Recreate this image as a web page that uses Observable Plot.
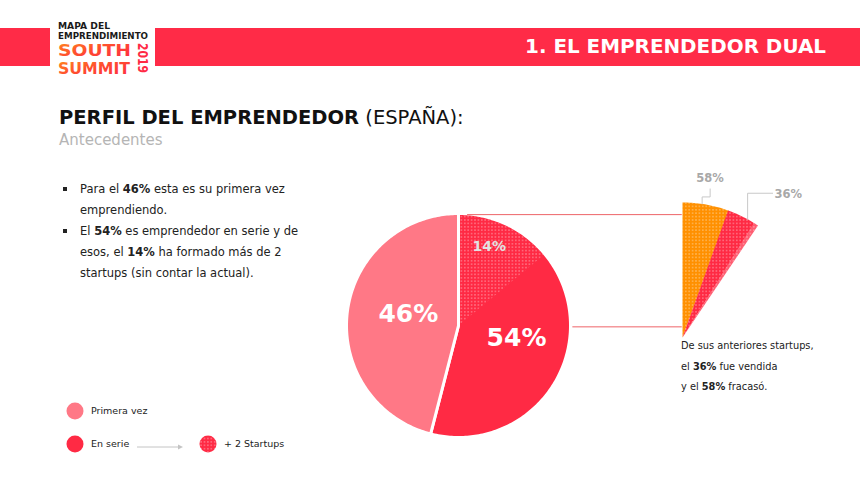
<!DOCTYPE html>
<html>
<head>
<meta charset="utf-8">
<script src="https://cdn.jsdelivr.net/npm/d3@7"></script>
<script src="https://cdn.jsdelivr.net/npm/@observablehq/plot@0.6"></script>
<style>
  html, body { margin: 0; padding: 0; background: #fff; }
  #page { position: relative; width: 860px; height: 484px; overflow: hidden; font-family: "DejaVu Sans", sans-serif; color: #1a1a1a; }
  .abs { position: absolute; white-space: nowrap; }
  #bar { left: 0; top: 28px; width: 860px; height: 38px; background: #ff2b47; }
  #logo { left: 50px; top: 15px; width: 105px; height: 66px; background: #fff; overflow: visible; }
  #section { right: 34px; top: 33px; line-height: 28px; font-size: 19.9px; font-weight: bold; color: #fff; }
  #title { left: 59px; top: 104px; line-height: 28px; font-size: 19.5px; color: #111; }
  #title b { font-weight: bold; }
  #subtitle { left: 59px; top: 129px; line-height: 22px; font-size: 15px; color: #b5b5b5; }
  #bullets { left: 63px; top: 179px; font-size: 11.5px; line-height: 21px; color: #222; }
  #bullets .item { position: relative; padding-left: 17px; }
  #bullets .item::before { content: ""; position: absolute; left: 0; top: 8px; width: 4px; height: 4px; background: #222; }
  #caption { left: 681px; top: 336px; font-size: 9.8px; line-height: 20.5px; color: #222; }
  #legend { left: 60px; top: 396px; }
  #legend text { font-family: "DejaVu Sans", sans-serif; font-size: 9.5px; fill: #222; }
  #chart { left: 330px; top: 160px; }
</style>
</head>
<body>
<svg width="0" height="0" style="position:absolute">
  <defs>
    <pattern id="dots" width="3.4" height="3.4" patternUnits="userSpaceOnUse">
      <circle cx="1.7" cy="1.7" r="0.75" fill="#ffffff" fill-opacity="0.42"></circle>
    </pattern>
    <linearGradient id="logoGrad" x1="0" y1="0" x2="1" y2="1">
      <stop offset="0" stop-color="#ff8a1f"></stop>
      <stop offset="0.5" stop-color="#ff4a30"></stop>
      <stop offset="1" stop-color="#ff2a45"></stop>
    </linearGradient>
  </defs>
</svg>
<div id="page">
  <div id="bar" class="abs"></div>
  <svg id="logo" class="abs" width="105" height="66" viewBox="0 0 105 66">
    <rect x="0" y="0" width="105" height="66" fill="#fff"></rect>
    <text x="8" y="14" font-family="DejaVu Sans" font-weight="bold" font-size="8" fill="#1a1a1a" textLength="52" lengthAdjust="spacingAndGlyphs">MAPA DEL</text>
    <text x="8" y="23.5" font-family="DejaVu Sans" font-weight="bold" font-size="8" fill="#1a1a1a" textLength="90" lengthAdjust="spacingAndGlyphs">EMPRENDIMIENTO</text>
    <text x="8" y="40.5" font-family="DejaVu Sans" font-weight="bold" font-size="16" fill="url(#logoGrad)" textLength="73" lengthAdjust="spacingAndGlyphs">SOUTH</text>
    <text x="8" y="59" font-family="DejaVu Sans" font-weight="bold" font-size="16" fill="url(#logoGrad)" textLength="72" lengthAdjust="spacingAndGlyphs">SUMMIT</text>
    <text x="0" y="0" transform="translate(88,28) rotate(90)" font-family="DejaVu Sans" font-weight="bold" font-size="14" fill="#ff2a45" textLength="30" lengthAdjust="spacingAndGlyphs">2019</text>
  </svg>
  <div id="section" class="abs">1. EL EMPRENDEDOR DUAL</div>
  <div id="title" class="abs"><b>PERFIL DEL EMPRENDEDOR</b> (ESPAÑA):</div>
  <div id="subtitle" class="abs">Antecedentes</div>
  <div id="bullets" class="abs">
    <div class="item">Para el <b>46%</b> esta es su primera vez<br>emprendiendo.</div>
    <div class="item">El <b>54%</b> es emprendedor en serie y de<br>esos, el <b>14%</b> ha formado más de 2<br>startups (sin contar la actual).</div>
  </div>
  <div id="chart" class="abs"></div>
  <div id="caption" class="abs">De sus anteriores startups,<br>el <b>36%</b> fue vendida<br>y el <b>58%</b> fracasó.</div>
  <svg id="legend" class="abs" width="260" height="70"></svg>
</div>
<script>
// ---------- DATA ----------
const mainCategories = ["En serie", "Primera vez"];
const mainValues = [54, 46];
const mainLabels = ["54%", "46%"];
const plusCategory = "+ 2 Startups";
const plusValue = 14;
const plusLabel = "14%";
const detailCategories = ["Fracasó", "Vendida", "Otros"];
const detailValues = [58, 36, 6];
const detailLabels = ["58%", "36%", ""];
const legendLabels = ["Primera vez", "En serie", "+ 2 Startups"];

// ---------- STYLE / LAYOUT ----------
const colors = { "En serie": "#ff2a44", "Primera vez": "#ff7886", "Fracasó": "#ff9000", "Vendida": "#ff2a44", "Otros": "#ff5c70" };
const PX = 112;                  // pixels per radius unit
const W = 530, H = 300;          // plot size
const offX = 330, offY = 160;    // plot position on page
const pieCx = 458, pieCy = 325;  // pie center on page
const detail = { cx: (682 - pieCx) / PX, cy: (pieCy - 337) / PX, r: 135 / PX, span: 34 };

function wedge(cx, cy, r, a0, a1) {
  const pts = [{x: cx, y: cy}];
  const n = Math.max(2, Math.ceil(Math.abs(a1 - a0)));
  for (let i = 0; i <= n; i++) {
    const a = (a0 + (a1 - a0) * i / n) * Math.PI / 180;
    pts.push({x: cx + r * Math.sin(a), y: cy + r * Math.cos(a)});
  }
  pts.push({x: cx, y: cy});
  return pts;
}
function polar(cx, cy, r, a) {
  const t = a * Math.PI / 180;
  return {x: cx + r * Math.sin(t), y: cy + r * Math.cos(t)};
}

const marks = [];
// main pie
const total = d3.sum(mainValues);
let acc = 0;
const mainSlices = mainCategories.map((c, i) => {
  const a0 = acc / total * 360; acc += mainValues[i]; const a1 = acc / total * 360;
  return {c, a0, a1, label: mainLabels[i]};
});
mainSlices.forEach(s => {
  marks.push(Plot.line(wedge(0, 0, 1, s.a0, s.a1), {x: "x", y: "y", fill: colors[s.c], stroke: "#ffffff", strokeWidth: 3, strokeLinejoin: "round"}));
});
const plusA1 = plusValue / total * 360;
marks.push(Plot.line(wedge(0, 0, 0.985, 0, plusA1), {x: "x", y: "y", fill: "url(#dots)", stroke: "none"}));

// connectors
marks.push(Plot.line([{x: 0.08, y: 0.99}, {x: detail.cx - 0.01, y: 0.99}], {x: "x", y: "y", stroke: "#ee6468", strokeWidth: 1}));
marks.push(Plot.line([{x: 1.02, y: -0.012}, {x: detail.cx - 0.01, y: -0.012}], {x: "x", y: "y", stroke: "#ee6468", strokeWidth: 1}));

// detail wedge
const dTotal = d3.sum(detailValues);
let dAcc = 0;
const detailSlices = detailCategories.map((c, i) => {
  const a0 = dAcc / dTotal * detail.span; dAcc += detailValues[i]; const a1 = dAcc / dTotal * detail.span;
  return {c, a0, a1, label: detailLabels[i]};
});
detailSlices.forEach(s => {
  marks.push(Plot.line(wedge(detail.cx, detail.cy, detail.r, s.a0, s.a1 + (s.a1 < detail.span ? 0.3 : 0)), {x: "x", y: "y", fill: colors[s.c], stroke: "none"}));
});
marks.push(Plot.line(wedge(detail.cx, detail.cy, detail.r, 0, detail.span), {x: "x", y: "y", fill: "url(#dots)", stroke: "none"}));

// main labels
const mainLabelPos = mainSlices.map(s => ({...polar(0, 0, s.c === "En serie" ? 0.53 : 0.46, (s.a0 + s.a1) / 2 + (s.c === "En serie" ? 5 : 6)), label: s.label}));
marks.push(Plot.text(mainLabelPos, {x: "x", y: "y", text: "label", fill: "#fff", fontSize: 25, fontWeight: "bold", fontFamily: "DejaVu Sans"}));
marks.push(Plot.text([{...polar(0, 0, 0.76, plusA1 * 0.42), label: plusLabel}], {x: "x", y: "y", text: "label", fill: "#e2e2e2", fontSize: 14, fontWeight: "bold", fontFamily: "DejaVu Sans"}));

// detail leaders + labels
const u = 1 / PX;
const s58 = detailSlices[0], s36 = detailSlices[1];
const a58 = polar(detail.cx, detail.cy, detail.r, (s58.a0 + s58.a1) / 2 - 1.5);
const leader58 = [a58, {x: a58.x, y: a58.y + 7 * u}, {x: a58.x + 8 * u, y: a58.y + 7 * u}, {x: a58.x + 8 * u, y: a58.y + 15 * u}];
const a36 = polar(detail.cx, detail.cy, detail.r, (s36.a0 + s36.a1) / 2 + 3);
const leader36 = [a36, {x: a36.x, y: a36.y + 26 * u}, {x: a36.x + 25 * u, y: a36.y + 26 * u}];
marks.push(Plot.line(leader58, {x: "x", y: "y", stroke: "#c8c8c8", strokeWidth: 1}));
marks.push(Plot.line(leader36, {x: "x", y: "y", stroke: "#c8c8c8", strokeWidth: 1}));
marks.push(Plot.text([{x: a58.x + 8 * u, y: a58.y + 26 * u, label: s58.label}], {x: "x", y: "y", text: "label", fill: "#a8a8a8", fontSize: 11.5, fontWeight: "bold", fontFamily: "DejaVu Sans"}));
marks.push(Plot.text([{x: a36.x + 27 * u, y: a36.y + 25 * u, label: s36.label}], {x: "x", y: "y", text: "label", textAnchor: "start", fill: "#a8a8a8", fontSize: 11.5, fontWeight: "bold", fontFamily: "DejaVu Sans"}));

const chart = Plot.plot({
  width: W, height: H, margin: 0,
  x: {domain: [(offX - pieCx) / PX, (offX + W - pieCx) / PX], range: [0, W], axis: null},
  y: {domain: [(pieCy - (offY + H)) / PX, (pieCy - offY) / PX], range: [H, 0], axis: null},
  style: {background: "transparent", overflow: "visible"},
  marks
});
document.getElementById("chart").appendChild(chart);

// ---------- LEGEND ----------
const lg = d3.select("#legend");
const items = [
  {label: legendLabels[0], fill: colors["Primera vez"], dots: false, x: 15, y: 15},
  {label: legendLabels[1], fill: colors["En serie"], dots: false, x: 15, y: 48},
  {label: legendLabels[2], fill: colors["En serie"], dots: true, x: 148, y: 48}
];
items.forEach(it => {
  lg.append("circle").attr("cx", it.x).attr("cy", it.y).attr("r", 8.5).attr("fill", it.fill);
  if (it.dots) lg.append("circle").attr("cx", it.x).attr("cy", it.y).attr("r", 8.5).attr("fill", "url(#dots)");
  lg.append("text").attr("x", it.x + 16).attr("y", it.y).attr("dy", "0.35em").text(it.label);
});
lg.append("line").attr("x1", 77).attr("x2", 120).attr("y1", 51).attr("y2", 51).attr("stroke", "#c4c4c4").attr("stroke-width", 1);
lg.append("path").attr("d", "M118,48.5 L123,51 L118,53.5 Z").attr("fill", "#c4c4c4");
</script>
</body>
</html>
